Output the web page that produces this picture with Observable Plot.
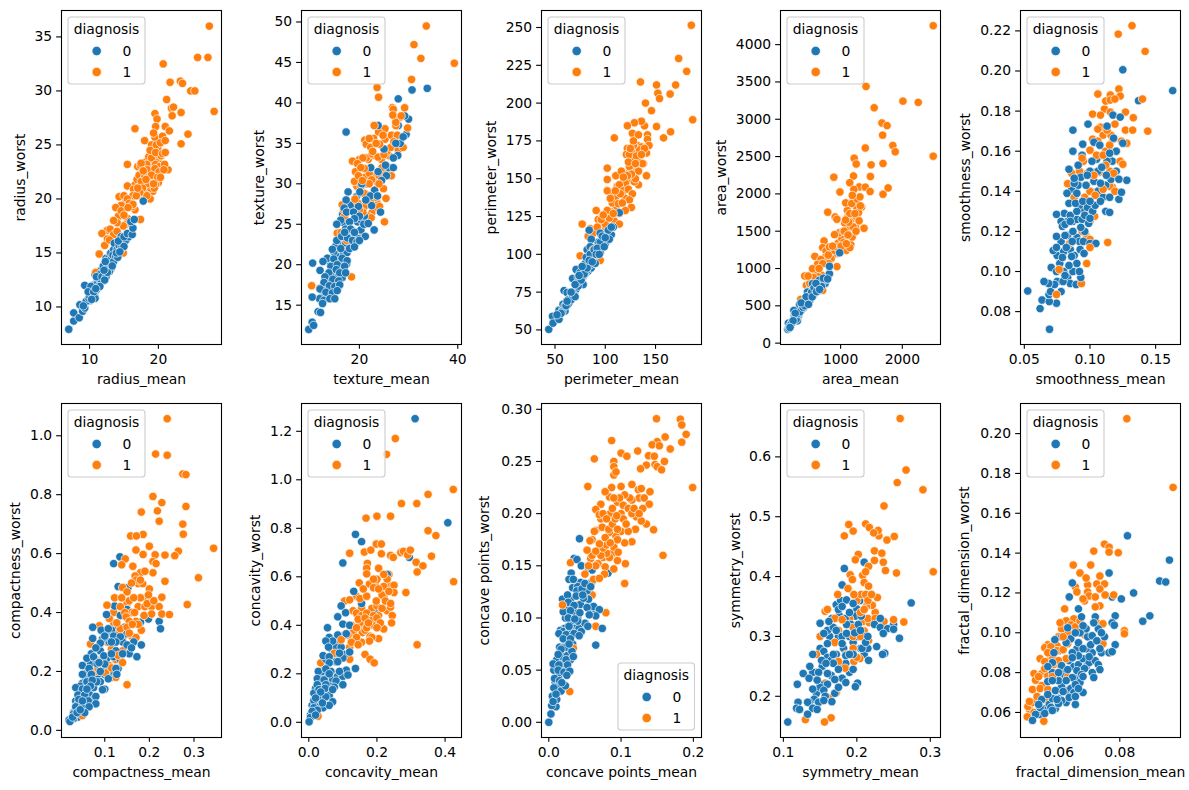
<!DOCTYPE html>
<html><head><meta charset="utf-8">
<script src="https://cdn.jsdelivr.net/npm/d3@7"></script>
<script src="https://cdn.jsdelivr.net/npm/@observablehq/plot@0.6"></script>
<style>
html,body{margin:0;padding:0;background:#fff}
#fig{position:relative;width:1189px;height:790px;overflow:hidden;font-family:"DejaVu Sans";}
#fig svg{position:absolute}
</style></head><body><div id="fig"></div>
<script>
const radiusB=[[6.98,7.93],[7.7,8.7],[7.7,9.45],[8.5,9],[8.6,10.2],[9,9.6],[9.3,9.9],[9.3,12],[9.7,10.6],[10.1,10.6],[10.3,11.6],[10.7,11.2],[10.9,12],[11.1,12.3],[11.3,12.4],[11.6,12.3],[11.6,13],[11.9,12.4],[12,13.1],[12.2,13.2],[12.3,13.7],[12.6,13.4],[12.7,14.1],[12.9,14.2],[13.1,14.2],[13.2,13.6],[13.4,15],[13.5,14.5],[13.7,15.1],[13.9,14.9],[14,15.9],[14.2,15.2],[14.4,16.2],[14.5,15.3],[14.8,16],[15.1,16.1],[15.3,16.2],[15.7,16.5],[13,14.9],[12.4,14.5],[11.2,13.1],[11.7,13.4],[9.5,10.5],[9.9,10.8],[10,11],[10.4,11.2],[10.8,10.8],[10.5,12],[10.8,13],[11,11.6],[11.2,12.2],[11.3,11.9],[11.4,12.6],[11.7,12.5],[11.9,13.2],[12.3,13],[12,13.8],[12.5,13.5],[12.7,13.9],[13,14],[12.8,14.5],[13.2,14.5],[13.1,15],[13.5,15.3],[13.6,15.9],[14,15.3],[14.3,15.7],[14.7,15.5],[14.6,16.5],[14.2,16.1],[15,15.6],[15,16.5],[15.5,16.8],[16.2,16.7],[16.3,17.3],[16,17.9],[16.5,18.1],[17.8,19.8],[13.4,14.8],[12.3,14.2],[11.5,13],[11,12.8],[10.2,11.9],[9.8,11.4],[12.9,13.3],[13.5,14.2],[10.6,11.4],[11.8,12.8],[12.4,12.8],[13.8,14.7],[14.1,14.6],[9.1,10.1],[10.3,10.7],[11.5,11.9],[12.2,12.5],[12.6,13.2],[13.3,13.8],[13.9,15],[14.4,15.1],[12.1,13.4],[10.9,11.7]];
const radiusM=[[27.4,36],[25.7,33.1],[27.2,33.1],[20.7,32.5],[21.7,30.8],[23.2,30.9],[23.5,30.7],[24.7,30],[25.3,30],[21.2,29.2],[28.1,28.1],[21.9,28.4],[22.2,28.5],[22,27.7],[23.3,28],[21,26.7],[21.6,26.3],[24.3,26],[23.3,25.1],[16.6,26.5],[18,25.4],[19.5,27.9],[19.8,27.4],[19.6,26.7],[19.3,26.1],[20.6,25.8],[21.4,22.7],[15.5,23.2],[19,25],[19.7,25],[20.3,25.2],[21,25.4],[18.8,24.5],[19.6,24.3],[20.6,24.2],[21,24.3],[19.2,23.8],[20,23.7],[20.5,23.2],[18.3,23.2],[17,23],[17.4,23.1],[18.4,22.7],[19.5,22.8],[20.1,22.5],[17.2,22.2],[18,22],[19,22.2],[19.9,22],[20.3,22],[17.5,21.6],[18.2,21.8],[19.3,21.4],[17,21],[17.9,21.2],[15.5,21.2],[16.4,20.9],[18.5,20.5],[19.2,20.7],[17.4,20.4],[18,20],[18.8,20],[16.3,20.3],[14.3,20.2],[15,20.3],[15.5,20],[16.3,19.5],[13.8,19.2],[14.6,18.9],[15,18.5],[13.5,18],[12.6,17.1],[11.8,16.8],[13,17.2],[15.5,18.2],[15.2,17.6],[13.5,16.7],[12.6,16.3],[11.4,14.9],[12.2,15.7],[14.9,15],[17.4,18.1],[16.6,19],[16.2,19.3],[14.9,17.5],[14,17.8],[10.9,13.2],[17.5,23.3],[17.8,22.6],[18.1,23.4],[18.6,23.9],[18.9,23.3],[19.3,24.4],[19.5,25.7],[19.9,24.7],[20,24.1],[20.4,24],[20.9,23.2],[20.8,22.7],[20,21.5],[19.6,21.3],[19.4,21],[18.7,21.4],[18.3,21.4],[17.7,21],[17.3,20.6],[16.8,20.3],[16.6,21.3],[16.9,21.8],[17.7,22.3],[18.5,22.3],[19,23.8],[19.6,23.2],[20.2,23],[18.9,21],[18.3,20.3],[19.9,21.7],[15.3,19.8],[14.6,19.4],[15.8,19.6],[14.2,18.4],[14,17],[12.9,16.2],[15.6,19.2]];
const textureB=[[12.4,16],[13,16.2],[13.4,17],[13.6,17.8],[14,18.1],[14.2,17],[14.4,18.8],[14.7,19.2],[15,18.6],[15.2,17.9],[15.5,17.4],[15.8,18.8],[16.2,19.5],[16.5,18.4],[16.7,19.4],[17.4,20.1],[14.1,20.3],[14.8,20],[15.6,21],[16,20.5],[16.8,21.4],[17.5,21.5],[18.3,22.5],[14.8,21.6],[15.2,22.3],[16,23],[16.6,22.5],[17.2,22.7],[18,23.6],[19.2,23.5],[19.8,23.8],[18.6,24.2],[17.8,24.9],[16.8,25.2],[16.6,26.2],[17.9,26.8],[19,27.3],[19.6,25.3],[20.4,25.5],[21,26],[18.3,27.4],[19.4,28.4],[20.7,28.8],[21.5,30],[25.5,31],[26,32],[27.8,33.5],[28.3,35],[29.5,36.1],[33.8,41.8],[30.7,41.6],[27.9,40.5],[17.3,36.4],[23.8,37.2],[27.9,37.2],[28.9,35.8],[30,38],[29.2,38.4],[25,34.3],[27.4,35],[26.9,33.2],[26.9,32],[25.3,32.3],[23.8,31.5],[24.5,30.4],[22.3,32],[23.1,29.2],[20.5,30],[20.1,29],[17.7,29],[17.3,28],[22.2,28.5],[22.5,27.3],[16.9,27],[17.4,26.5],[21.3,28],[19.8,27.2],[18.8,26.5],[20,26],[19,25.7],[18,25.3],[16.2,25.5],[15.4,25],[17.2,24.4],[18.2,24.4],[20.3,24.3],[20.9,25],[21.8,25.1],[23,24.3],[21.2,23.5],[15.4,23],[16.4,23.5],[17.6,23.3],[18.6,23],[19.5,22.8],[14.5,21.9],[16.2,22],[18,22],[19,22.2],[13.5,20.8],[14.8,20.7],[16.5,20.8],[17.5,20.5],[10.5,20.2],[12.6,20.4],[14.2,19.8],[15.5,20],[17,19.8],[12,19.3],[13.8,19],[15.3,19.4],[16,19],[17.2,19],[13,18.5],[14.6,18.2],[15.8,18],[12.8,17.8],[13.9,17.4],[15,17.3],[16,17.5],[12,17],[13.2,16.6],[14.5,16.5],[15.5,16.8],[11.9,15.8],[12.8,15.6],[14,15.8],[15,15.8],[12.5,15.2],[10.4,16],[11.6,14.2],[12.1,14.1],[10.4,12.9],[9.7,12],[10.7,12.5],[19,24],[20,23],[17,24],[24.3,26.5],[23.7,28.5]];
const textureM=[[33.6,49.5],[31.1,47.2],[32.5,45.5],[39.3,44.9],[30.6,42.9],[23.6,41.9],[23.9,40.7],[26.7,39.4],[26.9,39.2],[29.2,39.4],[28.2,38.2],[27.4,37.2],[29.8,36.9],[23,37.2],[25.2,36.8],[23.9,36.4],[22.9,35.6],[21.1,35.4],[25.2,35.5],[26.5,36],[27.9,34.2],[21.4,34.9],[22.3,34.5],[24.1,34.9],[18.6,32.8],[20.7,33.2],[19.6,32.5],[20.3,32],[21.8,33],[23,33.5],[24.5,33],[26,33.5],[19.2,31.5],[21,30.8],[22.5,30.5],[26.5,31],[19,30.3],[20.3,29.7],[22,30],[24.9,29.4],[25.4,28.2],[19.1,28.1],[21,27.2],[23.6,27.6],[23.1,27],[22.5,26.4],[21.2,25.8],[21.8,26],[20.8,25.6],[25.1,25.3],[16.5,27.4],[17,26],[20.2,24.2],[15.5,23.9],[17.4,23],[18.4,18.5],[10.3,17.4],[11.9,17.1],[19.9,23.7],[24,31],[25,31.5],[22,31.3],[27.7,36],[28.9,34.5],[24.6,32],[21,28.8],[22.2,27.8],[16.3,24],[22.7,34],[24,30],[20,33],[21.4,33.2],[22.6,33.7],[23.8,33.3],[25.6,34],[26.4,34.5],[27,35.2],[25,33.6],[22,35.6],[23.4,35],[24.8,36],[21,31.9],[19.8,31],[20.6,30.4],[22.6,31],[23.6,30.2],[19.5,29.7],[21.7,28.6],[24.1,27.2],[23.2,28.3],[22.4,25.8],[20.7,26.5],[20,26.8],[19.7,27.6],[16.8,26.8],[27.4,37.6],[26.8,38.5],[28.5,38.4]];
const perimB=[[43.8,50.4],[47.5,59],[48,54.5],[54,57],[54,63],[58,64],[60,62.5],[58,67],[59,76],[62,74.7],[64,68],[68,72],[70,75.5],[67.5,84],[57,62],[60,66],[63,67],[65,71],[67,73],[69,74],[71,77],[73,85],[75,81],[76,87],[78,85],[80,87],[80,91],[83,89],[83,94],[86,91],[87,100],[88,94],[90,98],[92,99],[93,108],[95,101],[96,105],[98,108],[100,107],[102,113],[104,118],[106,113],[108,118],[99,113],[88,104],[82,103],[86,110],[74,82.5],[71,90],[75,88],[77,85],[81,89],[80,94],[85,93],[88,98],[90,100],[85,105],[95,106],[95,114],[104,110],[103,116],[114,127.5],[106,118],[95,108],[90,94],[81,98],[78,80],[63,70],[68,74],[73,79],[85,100],[84,116],[56,61],[61,66],[66,70],[70,72],[72,81],[76,83],[79,87],[82,91],[84,96],[87,95],[89,103],[92,104],[97,112],[100,111],[91,100],[77,92],[74,86],[70,80],[66,75],[62,69],[52,60],[94,100],[99,105]];
const perimM=[[185.6,251.5],[173,229.5],[181,221],[135,214],[151,212],[152.3,206.5],[154,203],[164.5,206],[170,212],[140,200],[146,195],[187,189],[151,184.5],[136,188],[129,187],[122,185],[139,185],[165,181],[158,177],[109,177],[127,180],[133,179],[142,179],[142,176],[143.5,172],[121,166],[134,169],[141,167],[123,161],[137,160],[130,160],[141,152],[121,153],[102,157],[102,149.5],[110.5,152],[116,155],[133,146],[127,140],[102,142],[120,129],[105,137],[110,142],[113,133.5],[117,134],[91,129],[102,129],[108,127],[93,123],[97,121],[109,122],[114,120],[77,120],[103,118],[83,112],[88,114],[93,106],[75,99],[95,96],[128,172],[131,165],[125,170],[136,166],[128,158],[130,154],[125,149],[120,147],[114,146],[118,142],[123,143],[129,148],[110,137],[107,134],[115,140],[124,166],[128,175],[139,170],[104,124],[98,126],[100,118],[85,117],[72,89],[122,170],[124,158],[126,163],[127,167],[132,172],[134,162],[136,171],[138,160],[133,155],[130,150],[126,153],[122,152],[118,151],[117,146],[112,145],[108,140],[111,131],[114,127],[120,137],[124,136],[126,131],[106,128],[101,125],[100,120],[96,123],[92,118],[96,113],[88,103]];
const areaB=[[143.5,185],[154,268],[160,200],[190,230],[210,270],[240,310],[250,370],[275,350],[290,420],[320,370],[330,470],[350,460],[370,520],[400,470],[400,530],[430,570],[450,530],[470,620],[500,570],[510,690],[560,640],[570,790],[600,680],[640,700],[640,810],[680,860],[700,790],[750,800],[480,700],[520,760],[300,300],[340,510],[242,438],[258,340],[368,447],[335,519],[406,559],[494,604],[462,684],[588,716],[654,841],[654,752],[819,930],[764,850],[819,1029],[984,1212],[544,796],[379,505],[297,371],[214,282],[170,225],[200,260],[280,320],[310,395],[340,420],[390,480],[420,500],[450,580],[500,640],[530,680],[570,740],[620,780],[690,760],[720,870],[790,860],[600,800],[440,620],[360,540],[265,400],[230,300],[180,210],[480,520],[540,620],[610,690],[660,720]];
const areaM=[[2501,4254],[1412,3440],[1544,3154],[2010,3243],[2258,3226],[1670,2950],[1753,2915],[1681,2787],[1846,2648],[1885,2564],[1400,2615],[1220,2477],[1253,2400],[1494,2389],[1687,2407],[2501,2505],[890,2224],[1209,2240],[1483,2233],[1148,2150],[989,2025],[1082,1880],[791,1755],[1302,2093],[1400,2090],[1478,2031],[1687,1995],[1770,2080],[1214,2060],[1313,1960],[1203,1937],[1379,1539],[912,1691],[940,1660],[1066,1610],[1286,1647],[1258,1825],[1341,1825],[1148,1736],[1231,1736],[1044,1499],[1203,1557],[901,1454],[1187,1423],[1093,1333],[1165,1320],[731,1369],[709,1280],[764,1235],[1093,1244],[940,1289],[846,1132],[582,1163],[808,1065],[940,1025],[626,1056],[709,1065],[544,998],[418,899],[473,899],[533,864],[698,908],[445,774],[709,707],[352,586],[1110,1780],[1180,1870],[1270,1930],[1020,1400],[980,1480],[870,1300],[800,1180],[650,1000],[1250,1500],[1130,1620],[1100,1500],[1120,1700],[1150,1560],[1170,1650],[1200,1720],[1220,1900],[1250,1700],[1290,1750],[1320,1840],[1240,1560],[1300,1640],[1050,1350],[1010,1300],[1060,1500],[1080,1650],[1000,1220],[960,1340],[950,1200],[870,1180],[900,1240],[820,1290],[750,1150],[680,1120],[600,950],[640,890],[560,880],[500,800],[1150,1280],[1120,1450],[1190,1980]];
const smoothB=[[.163,.1902],[.125,.2006],[.137,.1852],[.0526,.0903],[.0692,.0712],[.062,.0815],[.0635,.0858],[.0745,.0842],[.069,.085],[.0688,.0885],[.07,.09],[.075,.095],[.077,.104],[.08,.1],[.083,.097],[.085,.094],[.087,.1],[.075,.108],[.08,.11],[.083,.118],[.078,.115],[.085,.111],[.088,.108],[.09,.104],[.09,.117],[.092,.115],[.087,.125],[.083,.125],[.09,.126],[.096,.12],[.094,.126],[.088,.137],[.086,.141],[.091,.143],[.093,.147],[.094,.131],[.098,.132],[.102,.13],[.104,.133],[.106,.14],[.1,.14],[.103,.145],[.106,.15],[.11,.137],[.112,.143],[.116,.146],[.12,.15],[.117,.155],[.12,.16],[.113,.155],[.105,.156],[.1,.15],[.094,.158],[.088,.144],[.092,.133],[.078,.125],[.081,.118],[.073,.0935],[.0685,.094],[.065,.095],[.078,.09],[.0795,.095],[.081,.098],[.0705,.102],[.0745,.1],[.0895,.0935],[.093,.097],[.092,.1],[.084,.103],[.079,.107],[.072,.1105],[.0745,.112],[.086,.1075],[.0925,.111],[.0955,.109],[.082,.112],[.0865,.115],[.095,.115],[.1,.114],[.1045,.114],[.0745,.1175],[.079,.1225],[.081,.1235],[.087,.12],[.093,.122],[.099,.124],[.0805,.129],[.0745,.1285],[.085,.128],[.09,.13],[.096,.128],[.1,.1265],[.084,.134],[.089,.134],[.0945,.135],[.1,.135],[.108,.135],[.112,.13],[.115,.1295],[.0825,.139],[.09,.139],[.115,.137],[.122,.136],[.124,.1395],[.128,.1455],[.122,.146],[.088,.1465],[.097,.143],[.108,.144],[.1125,.148],[.084,.151],[.091,.153],[.1015,.155],[.109,.152],[.115,.159],[.087,.16],[.0945,.1635],[.103,.1645],[.1075,.163],[.0985,.1735],[.087,.1705],[.125,.164],[.118,.1665],[.1175,.178],[.123,.177],[.113,.1725],[.098,.148],[.085,.125]];
const smoothM=[[.132,.2226],[.1215,.2184],[.142,.2098],[.122,.191],[.106,.1885],[.1155,.188],[.123,.1875],[.112,.185],[.1155,.1855],[.119,.186],[.14,.186],[.111,.181],[.1155,.1795],[.102,.1785],[.108,.178],[.127,.1795],[.133,.1767],[.119,.1735],[.106,.171],[.113,.1705],[.127,.1705],[.1325,.1705],[.144,.17],[.11,.168],[.1175,.166],[.102,.166],[.128,.164],[.1,.1605],[.105,.158],[.11,.158],[.094,.1565],[.123,.155],[.125,.1535],[.115,.15],[.092,.15],[.107,.1495],[.098,.149],[.083,.1438],[.115,.1425],[.1,.14],[.104,.138],[.11,.141],[.119,.14],[.099,.131],[.1035,.1275],[.097,.118],[.094,.12],[.0975,.1165],[.0845,.114],[.1135,.1145],[.0975,.104],[.0935,.094],[.0745,.0885],[.0765,.101],[.1,.125],[.096,.137],[.112,.16],[.108,.172],[.116,.168],[.12,.16],[.124,.165],[.115,.163],[.106,.165],[.112,.153],[.103,.148],[.108,.137],[.117,.142],[.095,.133],[.098,.126],[.088,.137],[.086,.149],[.095,.155],[.118,.149],[.1,.116],[.1,.112]];
const compactB=[[.134,.589],[.12,.566],[.13,.488],[.152,.484],[.122,.422],[.15,.41],[.104,.393],[.135,.39],[.18,.367],[.198,.378],[.222,.37],[.225,.345],[.03,.06],[.035,.1],[.04,.09],[.045,.085],[.048,.12],[.05,.16],[.055,.1],[.058,.175],[.06,.085],[.062,.2],[.065,.125],[.068,.225],[.07,.17],[.075,.145],[.078,.2],[.08,.24],[.085,.19],[.09,.27],[.09,.165],[.095,.2],[.1,.19],[.105,.245],[.11,.21],[.11,.3],[.115,.18],[.12,.25],[.125,.27],[.13,.21],[.135,.24],[.14,.3],[.105,.33],[.095,.31],[.13,.35],[.145,.35],[.155,.26],[.115,.34],[.12,.2],[.065,.19],[.045,.15],[.055,.14],[.075,.105],[.04,.045],[.03,.04],[.073,.35],[.092,.34],[.108,.345],[.12,.32],[.15,.328],[.073,.312],[.1,.32],[.135,.318],[.165,.3],[.182,.29],[.172,.25],[.15,.29],[.09,.296],[.125,.3],[.07,.26],[.08,.28],[.098,.253],[.115,.26],[.14,.26],[.16,.28],[.06,.245],[.075,.25],[.083,.226],[.1,.225],[.125,.21],[.05,.22],[.065,.21],[.09,.2],[.108,.175],[.127,.19],[.05,.19],[.07,.19],[.082,.165],[.06,.165],[.072,.17],[.1,.14],[.095,.138],[.035,.145],[.05,.14],[.068,.15],[.04,.12],[.055,.12],[.08,.115],[.042,.105],[.063,.1],[.08,.09],[.035,.08],[.05,.08],[.065,.08],[.042,.065],[.03,.055],[.055,.06],[.02,.035],[.022,.03],[.028,.045],[.038,.06],[.05,.1],[.06,.14],[.087,.23],[.115,.3],[.045,.07]];
const compactM=[[.24,1.058],[.214,.938],[.24,.934],[.275,.87],[.282,.868],[.208,.794],[.228,.773],[.282,.76],[.182,.741],[.218,.745],[.222,.71],[.275,.7],[.276,.666],[.158,.66],[.171,.66],[.186,.665],[.2,.625],[.344,.618],[.17,.612],[.265,.608],[.186,.597],[.213,.596],[.235,.595],[.257,.593],[.146,.582],[.208,.573],[.215,.566],[.138,.562],[.163,.557],[.31,.518],[.18,.535],[.208,.535],[.19,.54],[.168,.524],[.235,.506],[.175,.498],[.185,.498],[.2,.48],[.14,.485],[.15,.47],[.198,.46],[.228,.452],[.122,.45],[.138,.45],[.165,.45],[.192,.45],[.155,.44],[.285,.427],[.105,.425],[.205,.42],[.222,.42],[.16,.4],[.167,.4],[.188,.39],[.228,.395],[.245,.393],[.148,.385],[.155,.37],[.127,.365],[.162,.36],[.14,.345],[.182,.34],[.088,.355],[.16,.32],[.128,.33],[.17,.315],[.1,.31],[.068,.293],[.115,.275],[.13,.255],[.085,.21],[.102,.195],[.115,.212],[.15,.155],[.05,.05],[.15,.43],[.175,.42],[.18,.45],[.19,.42],[.195,.43],[.205,.395],[.21,.44],[.135,.42],[.145,.4],[.17,.37],[.175,.36],[.145,.34],[.135,.345],[.15,.35],[.155,.33],[.14,.31],[.12,.365],[.12,.4],[.11,.38],[.105,.3],[.14,.27],[.125,.24],[.11,.22],[.095,.24],[.08,.2],[.125,.18],[.14,.23],[.17,.51],[.16,.5],[.18,.51]];
const concavB=[[.312,1.252],[.137,.775],[.155,.745],[.408,.823],[.1,.657],[.295,.68],[.23,.61],[.132,.54],[.155,.49],[.095,.48],[.085,.435],[.108,.452],[.195,.46],[.005,.03],[.01,.07],[.012,.03],[.018,.075],[.02,.14],[.022,.06],[.028,.075],[.03,.18],[.033,.16],[.035,.09],[.038,.12],[.04,.19],[.042,.06],[.045,.11],[.05,.26],[.055,.19],[.055,.13],[.06,.16],[.065,.21],[.068,.3],[.07,.18],[.075,.26],[.085,.19],[.09,.33],[.1,.19],[.105,.28],[.06,.11],[.04,.21],[.03,.16],[.078,.31],[.105,.36],[.055,.39],[.1,.405],[.12,.4],[.06,.35],[.085,.36],[.11,.365],[.07,.335],[.095,.31],[.05,.335],[.058,.31],[.12,.29],[.042,.275],[.06,.27],[.08,.25],[.1,.265],[.137,.222],[.06,.245],[.085,.25],[.11,.215],[.028,.21],[.05,.22],[.09,.21],[.115,.195],[.025,.18],[.045,.175],[.06,.2],[.08,.17],[.1,.155],[.025,.155],[.05,.155],[.075,.145],[.015,.12],[.03,.135],[.048,.14],[.07,.135],[.015,.09],[.03,.1],[.05,.105],[.07,.085],[.06,.07],[.04,.08],[.015,.06],[.025,.05],[.01,.045],[.005,.02],[.02,.03],[.035,.125],[.02,.1],[.09,.285],[.001,.002]];
const concavM=[[.254,1.17],[.228,1.105],[.424,.96],[.35,.94],[.272,.902],[.317,.902],[.2,.85],[.168,.842],[.24,.85],[.35,.79],[.373,.77],[.12,.697],[.198,.735],[.213,.735],[.163,.702],[.182,.71],[.213,.695],[.24,.688],[.248,.68],[.27,.7],[.278,.705],[.29,.69],[.298,.71],[.315,.66],[.318,.62],[.335,.645],[.36,.685],[.172,.655],[.17,.635],[.17,.612],[.205,.635],[.22,.61],[.235,.61],[.425,.58],[.148,.575],[.195,.57],[.2,.59],[.23,.59],[.24,.56],[.25,.565],[.178,.57],[.19,.555],[.285,.535],[.25,.535],[.215,.525],[.15,.51],[.17,.52],[.198,.5],[.22,.52],[.105,.5],[.12,.505],[.155,.47],[.185,.47],[.23,.46],[.24,.475],[.205,.44],[.245,.44],[.145,.425],[.165,.43],[.175,.41],[.2,.39],[.243,.41],[.14,.39],[.16,.4],[.19,.4],[.22,.385],[.13,.37],[.157,.37],[.18,.355],[.205,.345],[.125,.33],[.145,.32],[.178,.335],[.318,.32],[.075,.285],[.165,.28],[.18,.26],[.192,.245],[.095,.34],[.035,.245],[.12,.26],[.1,.27],[.027,.025],[.14,.45],[.15,.41],[.155,.44],[.165,.38],[.17,.45],[.19,.44],[.2,.43],[.21,.41],[.215,.47],[.225,.5],[.205,.55],[.16,.55],[.14,.52],[.13,.46],[.125,.4],[.115,.36],[.12,.31],[.155,.33],[.14,.35],[.17,.39],[.185,.35],[.18,.42],[.2,.48],[.19,.59],[.22,.56],[.235,.54],[.24,.49]];
const pointsB=[[.0425,.176],[.035,.157],[.039,.156],[.045,.15],[.055,.148],[.06,.146],[.031,.143],[.082,.143],[.028,.137],[.044,.134],[.06,.135],[.033,.129],[.04,.13],[.053,.126],[.005,.025],[.007,.05],[.009,.038],[.011,.06],[.012,.034],[.015,.072],[.016,.046],[.018,.056],[.019,.063],[.021,.072],[.022,.09],[.024,.05],[.026,.064],[.016,.088],[.02,.087],[.023,.1],[.025,.108],[.028,.105],[.03,.118],[.032,.097],[.033,.075],[.036,.09],[.037,.105],[.039,.126],[.04,.1],[.042,.09],[.044,.113],[.046,.128],[.05,.095],[.05,.133],[.055,.118],[.058,.13],[.06,.105],[.065,.108],[.029,.09],[.014,.045],[.01,.015],[.03,.06],[.019,.118],[.026,.122],[.038,.121],[.048,.119],[.027,.115],[.035,.112],[.062,.111],[.07,.108],[.02,.106],[.03,.107],[.043,.105],[.053,.11],[.065,.102],[.027,.1],[.04,.097],[.056,.103],[.074,.09],[.028,.092],[.045,.087],[.054,.092],[.014,.085],[.024,.084],[.035,.085],[.042,.083],[.065,.074],[.02,.08],[.03,.08],[.024,.072],[.032,.068],[.017,.07],[.013,.065],[.024,.06],[.034,.063],[.006,.056],[.014,.055],[.026,.055],[.013,.05],[.021,.048],[.029,.049],[.008,.042],[.015,.04],[.025,.045],[.007,.033],[.017,.03],[.023,.035],[.011,.022],[.004,.016],[.006,.02],[.003,.008],[.01,.027],[.018,.038],[.028,.075],[.036,.099],[.047,.122],[.034,.137],[.0,.0]];
const pointsM=[[.149,.291],[.182,.2905],[.184,.285],[.19,.276],[.087,.27],[.161,.2735],[.184,.2685],[.15,.269],[.143,.266],[.153,.265],[.168,.262],[.123,.26],[.1,.258],[.108,.255],[.063,.2525],[.138,.2555],[.146,.255],[.16,.25],[.09,.25],[.135,.2465],[.147,.247],[.09,.245],[.127,.243],[.15,.245],[.156,.242],[.09,.237],[.093,.24],[.054,.226],[.199,.225],[.087,.225],[.1,.226],[.115,.228],[.124,.223],[.128,.224],[.078,.221],[.14,.221],[.125,.215],[.132,.215],[.084,.216],[.115,.213],[.095,.211],[.139,.209],[.072,.209],[.103,.208],[.065,.204],[.088,.205],[.11,.205],[.07,.199],[.094,.198],[.121,.197],[.128,.193],[.08,.195],[.145,.1845],[.12,.185],[.065,.184],[.074,.187],[.084,.182],[.1,.183],[.11,.183],[.063,.183],[.078,.177],[.093,.178],[.115,.173],[.057,.174],[.07,.171],[.105,.172],[.09,.168],[.053,.165],[.065,.164],[.096,.163],[.158,.16],[.075,.158],[.084,.158],[.058,.157],[.068,.152],[.106,.152],[.09,.147],[.05,.142],[.078,.149],[.077,.142],[.062,.137],[.07,.138],[.105,.133],[.079,.105],[.019,.1125],[.065,.092],[.034,.071],[.029,.0295],[.042,.113],[.06,.122],[.03,.153],[.06,.175],[.072,.195],[.075,.167],[.08,.17],[.083,.185],[.088,.19],[.092,.195],[.095,.185],[.1,.2],[.103,.195],[.107,.19],[.115,.2],[.118,.205],[.125,.2],[.095,.155],[.088,.162],[.08,.162],[.072,.16],[.065,.15],[.06,.16],[.055,.15],[.085,.2],[.112,.215],[.105,.218],[.098,.215],[.09,.215],[.075,.2],[.13,.205],[.135,.19],[.095,.175],[.085,.172]];
const symB=[[.274,.356],[.183,.4135],[.21,.424],[.18,.386],[.22,.37],[.172,.353],[.178,.36],[.186,.361],[.2,.346],[.204,.36],[.166,.33],[.176,.335],[.198,.334],[.206,.334],[.145,.24],[.15,.28],[.153,.25],[.155,.275],[.16,.265],[.163,.3],[.165,.26],[.17,.29],[.172,.27],[.175,.3],[.178,.25],[.18,.3],[.182,.28],[.184,.33],[.19,.3],[.192,.32],[.195,.29],[.2,.3],[.202,.32],[.205,.28],[.208,.3],[.21,.27],[.215,.28],[.165,.235],[.17,.205],[.18,.23],[.185,.255],[.19,.24],[.15,.22],[.16,.22],[.145,.205],[.15,.215],[.14,.24],[.16,.31],[.168,.315],[.175,.345],[.18,.35],[.19,.34],[.195,.355],[.21,.345],[.142,.195],[.135,.19],[.232,.33],[.15,.322],[.162,.325],[.186,.32],[.224,.32],[.25,.32],[.232,.315],[.242,.313],[.25,.312],[.155,.305],[.172,.31],[.186,.305],[.197,.306],[.236,.305],[.258,.297],[.16,.288],[.18,.288],[.207,.28],[.212,.29],[.227,.283],[.168,.27],[.185,.268],[.195,.27],[.238,.272],[.235,.27],[.216,.26],[.14,.27],[.152,.26],[.168,.255],[.158,.255],[.195,.245],[.136,.25],[.148,.24],[.16,.238],[.175,.245],[.127,.238],[.135,.23],[.146,.227],[.17,.228],[.185,.223],[.201,.222],[.198,.216],[.119,.22],[.14,.212],[.175,.215],[.155,.21],[.157,.2],[.148,.19],[.166,.191],[.12,.19],[.133,.19],[.155,.193],[.14,.18],[.118,.18],[.122,.178],[.146,.178],[.133,.17],[.106,.157],[.19,.27],[.205,.31],[.215,.3]];
const symM=[[.259,.664],[.267,.578],[.255,.557],[.29,.545],[.237,.518],[.212,.488],[.189,.487],[.217,.482],[.195,.476],[.229,.477],[.223,.473],[.183,.468],[.23,.468],[.251,.467],[.241,.461],[.224,.443],[.234,.439],[.202,.437],[.198,.428],[.224,.427],[.236,.424],[.216,.417],[.239,.41],[.212,.408],[.304,.408],[.254,.406],[.208,.402],[.191,.403],[.194,.395],[.21,.39],[.216,.384],[.188,.38],[.174,.37],[.196,.37],[.212,.37],[.228,.365],[.185,.36],[.214,.355],[.221,.352],[.157,.342],[.16,.345],[.205,.34],[.213,.35],[.225,.33],[.237,.325],[.25,.328],[.264,.324],[.18,.328],[.208,.325],[.217,.323],[.21,.309],[.175,.31],[.15,.3],[.195,.315],[.216,.293],[.19,.27],[.204,.263],[.196,.258],[.175,.258],[.184,.247],[.157,.222],[.172,.206],[.163,.197],[.13,.161],[.165,.164],[.156,.157],[.145,.27],[.2,.36],[.206,.37],[.21,.345],[.215,.36],[.22,.37],[.225,.34],[.2,.34],[.215,.33],[.19,.33],[.17,.33],[.195,.3],[.205,.3],[.17,.29],[.185,.27],[.195,.28],[.2,.265]];
const fractalB=[[.0825,.1487],[.0962,.1365],[.0765,.13],[.093,.126],[.095,.1255],[.0645,.125],[.0845,.12],[.0775,.118],[.0635,.118],[.0805,.117],[.0665,.112],[.0898,.1085],[.0875,.1058],[.0785,.1085],[.054,.059],[.056,.062],[.057,.064],[.058,.067],[.059,.062],[.06,.067],[.061,.073],[.0625,.065],[.063,.071],[.064,.072],[.065,.07],[.0655,.064],[.066,.077],[.067,.075],[.068,.07],[.062,.079],[.06,.076],[.058,.08],[.0615,.082],[.0635,.086],[.065,.083],[.0665,.084],[.068,.087],[.069,.083],[.07,.085],[.071,.09],[.072,.086],[.073,.084],[.074,.09],[.069,.092],[.0705,.094],[.066,.092],[.064,.097],[.061,.098],[.06,.091],[.0695,.098],[.075,.098],[.073,.102],[.069,.102],[.067,.1],[.0585,.09],[.072,.108],[.0675,.108],[.0775,.105],[.063,.1025],[.068,.1035],[.0715,.105],[.0782,.1038],[.0655,.1],[.071,.0985],[.074,.1],[.0588,.0965],[.0625,.095],[.0665,.095],[.0725,.096],[.0785,.094],[.0665,.0885],[.0645,.09],[.068,.092],[.0735,.092],[.0765,.09],[.0775,.0905],[.058,.085],[.0645,.0875],[.07,.088],[.0565,.083],[.061,.0835],[.063,.0815],[.066,.081],[.0685,.082],[.0735,.0815],[.06,.08],[.0645,.0775],[.0675,.079],[.071,.08],[.0715,.0775],[.0565,.0755],[.058,.076],[.0625,.076],[.0655,.074],[.068,.078],[.059,.071],[.0615,.0705],[.0665,.072],[.0545,.0665],[.0565,.069],[.061,.066],[.0635,.0675],[.0655,.068],[.0575,.0625],[.06,.0645],[.054,.0625],[.0525,.059],[.0555,.0595],[.0515,.056],[.058,.061],[.0535,.064],[.0595,.0665]];
const fractalM=[[.0823,.2075],[.0974,.173],[.075,.1445],[.0765,.143],[.0765,.1405],[.0795,.1402],[.0715,.141],[.0648,.134],[.0705,.134],[.067,.13],[.0735,.1285],[.069,.1275],[.0725,.1245],[.075,.1245],[.0655,.123],[.0695,.124],[.0735,.122],[.066,.1205],[.0695,.1205],[.07,.1185],[.072,.118],[.0752,.119],[.078,.119],[.068,.117],[.0685,.116],[.0735,.1135],[.072,.113],[.062,.112],[.0635,.105],[.065,.107],[.0725,.105],[.0745,.1045],[.0605,.105],[.0815,.101],[.0815,.0995],[.0615,.098],[.063,.1],[.0685,.099],[.0595,.0935],[.063,.0945],[.0555,.0925],[.0575,.093],[.0745,.0945],[.0565,.09],[.0595,.091],[.0615,.0915],[.054,.087],[.0555,.0855],[.0585,.084],[.0605,.0835],[.052,.0795],[.0545,.0795],[.0565,.0785],[.0595,.079],[.063,.078],[.0525,.0762],[.0545,.0735],[.0515,.0715],[.0565,.0715],[.0505,.0655],[.0555,.0665],[.0535,.064],[.0505,.0615],[.052,.06],[.0498,.0578],[.0552,.0556],[.05,.063],[.0515,.065],[.053,.068],[.054,.072],[.0535,.078],[.0555,.082],[.057,.086],[.058,.088],[.0565,.094],[.06,.098],[.061,.102],[.0625,.106],[.064,.104],[.0655,.103],[.067,.106],[.0625,.087],[.06,.086],[.058,.078]];

const labelsX=["radius_mean","texture_mean","perimeter_mean","area_mean","smoothness_mean","compactness_mean","concavity_mean","concave points_mean","symmetry_mean","fractal_dimension_mean"];
const labelsY=["radius_worst","texture_worst","perimeter_worst","area_worst","smoothness_worst","compactness_worst","concavity_worst","concave points_worst","symmetry_worst","fractal_dimension_worst"];
const benign=[radiusB,textureB,perimB,areaB,smoothB,compactB,concavB,pointsB,symB,fractalB];
const malignant=[radiusM,textureM,perimM,areaM,smoothM,compactM,concavM,pointsM,symM,fractalM];
const xDomains=[[5.925,29.17],[8.23,40.76],[36.55,195.74],[25.6,2618.9],[.04709,.16894],[.00308,.3617],[-.02134,.44814],[-.01006,.21126],[.0961,.3139],[.047586,.099814]];
const yDomains=[[6.525,37.445],[10.14,51.42],[40.37,261.24],[-18.2,4457.4],[.0636,.23017],[-.02425,1.10954],[-.0626,1.3146],[-.01455,.30555],[.13113,.68917],[.04742,.21512]];
const xTicks=[[10,20],[20,40],[50,100,150],[1000,2000],[.05,.1,.15],[.1,.2,.3],[0,.2,.4],[0,.1,.2],[.1,.2,.3],[.06,.08]];
const yTicks=[[10,15,20,25,30,35],[15,20,25,30,35,40,45,50],[50,75,100,125,150,175,200,225,250],[0,500,1000,1500,2000,2500,3000,3500,4000],[.08,.1,.12,.14,.16,.18,.2,.22],[0,.2,.4,.6,.8,1],[0,.2,.4,.6,.8,1,1.2],[0,.05,.1,.15,.2,.25,.3],[.2,.3,.4,.5,.6],[.06,.08,.1,.12,.14,.16,.18,.2]];
const xFormats=["d","d","d","d",".2f",".1f",".1f",".1f",".1f",".2f"];
const yFormats=["d","d","d","d",".2f",".1f",".1f",".2f",".1f",".2f"];
const classes=["0","1"];
const colors=["#1f77b4","#ff7f0e"];

const frameLeft=[61.3,301.3,541.3,780.3,1020.3];
const frameTop=[10.3,403.3];
const yLabelX=[21.6,260,492.7,722.7,966.7,16.7,256,485.7,736,965];
const M={l:61,r:8,t:10,b:45}, W=160, H=334;
const fig=document.getElementById("fig");

// Draw order mixes the two classes, since they overlap each other in the figure.
function rows(i){
  const out=[];
  benign[i].forEach((d,k)=>out.push({x:d[0],y:d[1],c:"0",o:0.1+0.9*(k+1)/benign[i].length}));
  malignant[i].forEach((d,k)=>out.push({x:d[0],y:d[1],c:"1",o:((k*7)%malignant[i].length)/malignant[i].length*0.75}));
  return out.sort((a,b)=>a.o-b.o);
}

labelsX.forEach((lx,i)=>{
  const col=i%5,row=Math.floor(i/5);
  const L=frameLeft[col],T=frameTop[row];
  const plot=Plot.plot({
    width:M.l+W+M.r,height:M.t+H+M.b,
    marginLeft:M.l,marginRight:M.r,marginTop:M.t,marginBottom:M.b,
    style:{fontFamily:"DejaVu Sans",fontSize:"13.89px",background:"transparent",color:"#000",overflow:"visible"},
    x:{domain:xDomains[i]},
    y:{domain:yDomains[i]},
    color:{domain:classes,range:colors},
    marks:[
      Plot.dot(rows(i),{x:"x",y:"y",fill:"c",r:4.2,stroke:"#fff",strokeWidth:.67}),
      Plot.frame({stroke:"#000",strokeWidth:1.1}),
      Plot.axisX({ticks:xTicks[i],tickFormat:d3.format(xFormats[i]),tickSize:4.86,tickPadding:5,strokeWidth:1.1,label:lx,labelAnchor:"center",labelOffset:39,labelArrow:"none",fontSize:13.89}),
      Plot.axisY({ticks:yTicks[i],tickFormat:d3.format(yFormats[i]),tickSize:4.86,tickPadding:4.5,strokeWidth:1.1,label:labelsY[i],labelAnchor:"center",labelOffset:L-yLabelX[i]+6.5,labelArrow:"none",fontSize:13.89})
    ]
  });
  plot.style.left=(L-M.l)+"px";
  plot.style.top=(T-M.t)+"px";
  fig.appendChild(plot);

  // legend box
  const bottomRight=i===7;
  const bx=bottomRight?L+76.4:L+7, by=bottomRight?T+260:T+7;
  const bw=bottomRight?76.5:77, bh=67;
  const s=d3.select(fig).append("svg").attr("width",bw+2).attr("height",bh+2)
    .style("left",(bx-1)+"px").style("top",(by-1)+"px")
    .style("font-family","DejaVu Sans").style("font-size","13.89px");
  s.append("rect").attr("x",1).attr("y",1).attr("width",bw).attr("height",bh).attr("rx",3)
    .attr("fill","#fff").attr("fill-opacity",.8).attr("stroke","#ccc").attr("stroke-width",1.1);
  s.append("text").attr("x",1+bw/2).attr("y",17.7).attr("text-anchor","middle").text("diagnosis");
  classes.forEach((c,k)=>{
    const cy=35+k*21;
    s.append("circle").attr("cx",29.7).attr("cy",cy).attr("r",4.7).attr("fill",colors[k]).attr("stroke","#fff").attr("stroke-width",.67);
    s.append("text").attr("x",55.6).attr("y",cy+4.5).text(c);
  });
});
</script></body></html>
